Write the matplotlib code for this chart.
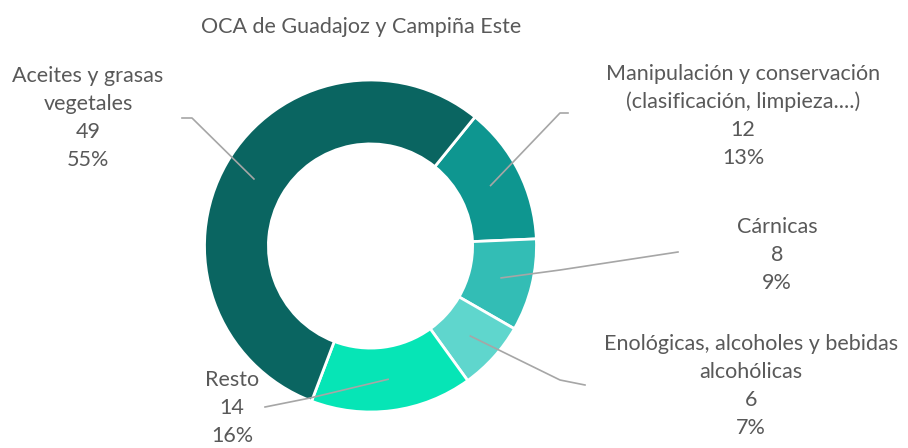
import matplotlib.pyplot as plt
import numpy as np

# datos del grafico
categorias = ['Manipulación y conservación\n(clasificación, limpieza....)', 'Cárnicas',
              'Enológicas, alcoholes y bebidas\nalcohólicas', 'Resto', 'Aceites y grasas\nvegetales']
valores = [12, 8, 6, 14, 49]
colores = ['#0e9690', '#33bdb5', '#5fd6cd', '#06e5b6', '#0a6561']
titulo = 'OCA de Guadajoz y Campiña Este'

W, H = 908, 448
plt.rcParams['font.family'] = ['Lato', 'DejaVu Sans']
fig = plt.figure(figsize=(W / 100, H / 100), dpi=100)
ax = fig.add_axes([0, 0, 1, 1])

cx, cy, R = 370.5, H - 246, 166
wedges, _ = ax.pie(valores, colors=colores, startangle=51, counterclock=False,
                   radius=R, center=(cx, cy), frame=True,
                   wedgeprops=dict(width=R * 0.385, edgecolor='white', linewidth=2))
ax.set_xlim(0, W)
ax.set_ylim(0, H)
ax.axis('off')

total = sum(valores)
gris = '#595959'

# posicion de las etiquetas (centro del bloque) y codos de las lineas guia
pos_txt = [(743, 116), (777, 255), (751, 386), (232, 408), (88, 118)]
codos = [[(560, 113), (568, 113)],
         [(560, 270), (678, 252)],
         [(560, 380), (585, 385)],
         [(310, 398), (265, 407)],
         [(192, 118), (182, 118)]]

for w, cat, v, (tx, ty), codo in zip(wedges, categorias, valores, pos_txt, codos):
    ang = np.deg2rad((w.theta1 + w.theta2) / 2)
    r = R * 0.81
    xs = [cx + r * np.cos(ang)] + [p[0] for p in codo]
    ys = [cy + r * np.sin(ang)] + [H - p[1] for p in codo]
    ax.plot(xs, ys, color='#a6a6a6', lw=1.2)
    txt = f'{cat}\n{v}\n{round(100 * v / total)}%'
    ax.text(tx, H - ty, txt, ha='center', va='center', fontsize=15.5,
            color=gris, linespacing=1.5)

ax.text(361, H - 27, titulo, ha='center', va='center', fontsize=15.5, color=gris)

fig.savefig('out.png', dpi=100)
